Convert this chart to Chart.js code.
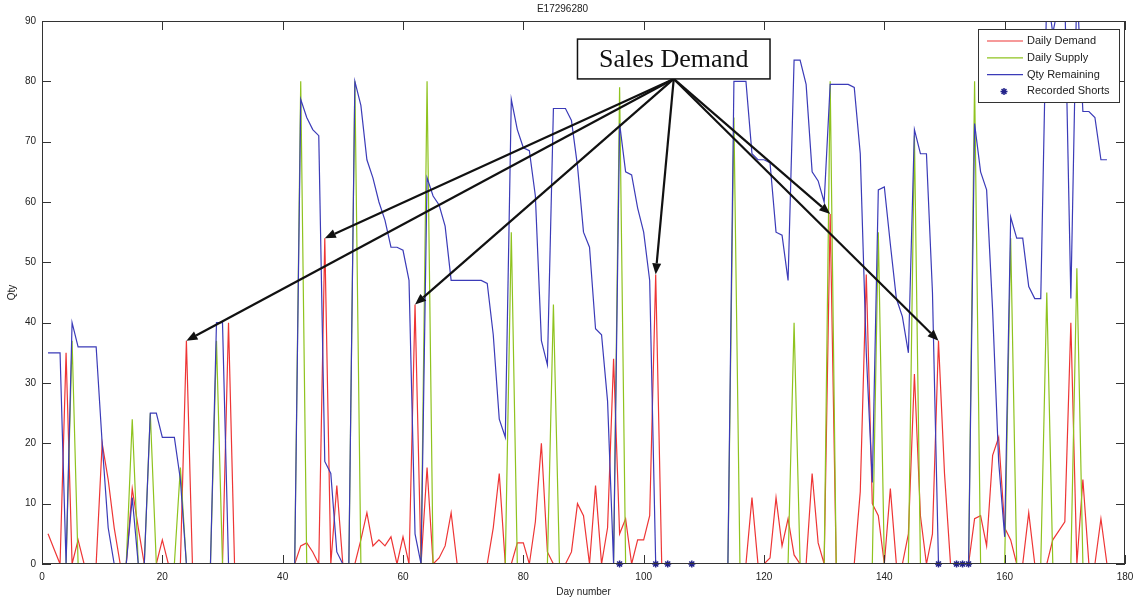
<!DOCTYPE html>
<html>
<head>
<meta charset="utf-8">
<title>E17296280</title>
<script src="https://cdn.jsdelivr.net/npm/chart.js@4.4.1/dist/chart.umd.min.js"></script>
<style>
  html, body { margin: 0; padding: 0; background: #fff; }
</style>
</head>
<body>
<canvas id="grafico" width="1135" height="600"></canvas>
<script>
// day numbers 1..177
const days = Array.from({ length: 177 }, (_, i) => i + 1);

const demand = [
  5, 2.5, 0, 35, 0, 4, 0, 0, 0, 20,
  14, 6, 0, 0, 12.5, 6, 0, 0, 0, 4,
  0, 0, 0, 37, 0, 0, 0, 0, 0, 0,
  40, 0, 0, 0, 0, 0, 0, 0, 0, 0,
  0, 0, 3, 3.5, 2, 0, 54, 0, 13, 0,
  0, 0, 4, 8.5, 3, 4, 3, 4.5, 0, 4.5,
  0, 43, 0, 16, 0, 1, 3, 8.5, 0, 0,
  0, 0, 0, 0, 6, 15, 0, 0, 3.5, 3.5,
  0, 7, 20, 2, 0, 0, 0, 2, 10, 8,
  0, 13, 0, 6, 34, 5, 7.5, 0, 4, 4,
  8, 48, 0, 0, 0, 0, 0, 0, 0, 0,
  0, 0, 0, 0, 0, 0, 0, 11, 0, 0,
  1, 11, 3, 7.5, 1.5, 0, 0, 15, 3.5, 0,
  58, 0, 0, 0, 0, 12, 48, 10, 8, 0,
  12.5, 0, 0, 5, 31.5, 8, 0, 5, 37, 15,
  0, 0, 0, 0, 7.5, 8, 3, 18, 21, 6,
  4, 0, 0, 8.5, 0, 0, 0, 4, 5.5, 7,
  40, 0, 14, 0, 0, 7.5, 0
];

const supply = [
  0, 0, 0, 0, 37, 0, 0, 0, 0, 0,
  0, 0, 0, 0, 24, 0, 0, 25, 0, 0,
  0, 0, 16, 0, 0, 0, 0, 0, 37, 0,
  0, 0, 0, 0, 0, 0, 0, 0, 0, 0,
  0, 0, 80, 0, 0, 0, 0, 0, 0, 0,
  0, 80, 0, 0, 0, 0, 0, 0, 0, 0,
  0, 0, 0, 80, 0, 0, 0, 0, 0, 0,
  0, 0, 0, 0, 0, 0, 0, 55, 0, 0,
  0, 0, 0, 0, 43, 0, 0, 0, 0, 0,
  0, 0, 0, 0, 0, 79, 0, 0, 0, 0,
  0, 0, 0, 0, 0, 0, 0, 0, 0, 0,
  0, 0, 0, 0, 74, 0, 0, 0, 0, 0,
  0, 0, 0, 0, 40, 0, 0, 0, 0, 0,
  80, 0, 0, 0, 0, 0, 0, 0, 55, 0,
  0, 0, 0, 0, 71, 0, 0, 0, 0, 0,
  0, 0, 0, 0, 80, 0, 0, 0, 0, 0,
  54, 0, 0, 0, 0, 0, 45, 0, 0, 0,
  0, 49, 0, 0, 0, 0, 0
];

const remaining = [
  35, 35, 35, 0, 40, 36, 36, 36, 36, 20,
  6, 0, 0, 0, 11, 0, 0, 25, 25, 21,
  21, 21, 14, 0, 0, 0, 0, 0, 40, 40,
  0, 0, 0, 0, 0, 0, 0, 0, 0, 0,
  0, 0, 77, 74, 72, 71, 17, 15, 2, 0,
  0, 80, 76, 67, 64, 60, 57, 52.5, 52.5, 52,
  47, 5, 0, 64, 61, 59.5, 56, 47, 47, 47,
  47, 47, 47, 46.5, 38, 24, 21, 77, 72, 69,
  68.5, 61, 37, 33, 75.5, 75.5, 75.5, 73.5, 66, 55,
  52.5, 39, 38, 27, 0, 73, 65, 64.5, 59, 55,
  47, 0, 0, 0, 0, 0, 0, 0, 0, 0,
  0, 0, 0, 0, 80, 80, 80, 68, 67, 67,
  66.5, 55, 54.5, 47, 83.5, 83.5, 79.5, 65, 63.5, 60,
  79.5, 79.5, 79.5, 79.5, 79, 68, 35, 13.5, 62, 62.5,
  53, 44, 41, 35, 72, 68, 68, 45, 0, 0,
  0, 0, 0, 0, 73, 65, 62, 42, 17, 4.5,
  57.5, 54, 54, 46, 44, 44, 95, 88, 93, 94,
  44, 96, 75, 75, 74, 67, 67
];

const shortDays = [96, 102, 104, 108, 149, 152, 153, 154];

const xTicks = [0, 20, 40, 60, 80, 100, 120, 140, 160, 180];
const yTicks = [0, 10, 20, 30, 40, 50, 60, 70, 80, 90];

// annotation: box text and the demand peaks the arrows point at
const noteText = 'Sales Demand';
const noteBox = { x0: 89, x1: 121, y0: 80.4, y1: 87 };
const arrowDays = [24, 47, 62, 102, 131, 149];

const fonte = { family: 'Liberation Sans, Arial, sans-serif', size: 10, weight: 'normal' };
const corTexto = '#222';

function pontos(vals) {
  return vals.map((v, i) => ({ x: days[i], y: v }));
}

function seta(ctx, x0, y0, x1, y1) {
  const ang = Math.atan2(y1 - y0, x1 - x0);
  const len = 11, w = 4.5;
  const bx = x1 - len * Math.cos(ang), by = y1 - len * Math.sin(ang);
  ctx.beginPath();
  ctx.moveTo(x0, y0);
  ctx.lineTo(bx, by);
  ctx.stroke();
  ctx.beginPath();
  ctx.moveTo(x1, y1);
  ctx.lineTo(bx + w * Math.sin(ang), by - w * Math.cos(ang));
  ctx.lineTo(bx - w * Math.sin(ang), by + w * Math.cos(ang));
  ctx.closePath();
  ctx.fill();
}

const decor = {
  id: 'decor',
  afterDatasetsDraw(chart) {
    const { ctx, chartArea: a, scales: { x, y } } = chart;
    ctx.save();

    // axes box and inward ticks, matlab style
    ctx.strokeStyle = '#333';
    ctx.lineWidth = 1;
    ctx.strokeRect(a.left + 0.5, a.top + 0.5, a.right - a.left - 1, a.bottom - a.top - 1);
    ctx.beginPath();
    xTicks.forEach(v => {
      const px = Math.round(x.getPixelForValue(v)) + 0.5;
      ctx.moveTo(px, a.bottom); ctx.lineTo(px, a.bottom - 9);
      ctx.moveTo(px, a.top); ctx.lineTo(px, a.top + 9);
    });
    yTicks.forEach(v => {
      const py = Math.round(y.getPixelForValue(v)) + 0.5;
      ctx.moveTo(a.left, py); ctx.lineTo(a.left + 9, py);
      ctx.moveTo(a.right, py); ctx.lineTo(a.right - 9, py);
    });
    ctx.stroke();

    // arrows from the note box to the demand peaks
    const ox = x.getPixelForValue((noteBox.x0 + noteBox.x1) / 2);
    const oy = y.getPixelForValue(noteBox.y0);
    ctx.strokeStyle = '#111';
    ctx.fillStyle = '#111';
    ctx.lineWidth = 2.2;
    arrowDays.forEach(d => {
      seta(ctx, ox, oy, x.getPixelForValue(d), y.getPixelForValue(demand[d - 1]));
    });

    // note box
    const bx0 = x.getPixelForValue(noteBox.x0), bx1 = x.getPixelForValue(noteBox.x1);
    const by0 = y.getPixelForValue(noteBox.y1), by1 = y.getPixelForValue(noteBox.y0);
    ctx.fillStyle = '#fff';
    ctx.fillRect(bx0, by0, bx1 - bx0, by1 - by0);
    ctx.lineWidth = 1.5;
    ctx.strokeStyle = '#111';
    ctx.strokeRect(bx0, by0, bx1 - bx0, by1 - by0);
    ctx.fillStyle = '#111';
    ctx.font = '26px "Liberation Serif", "Times New Roman", serif';
    ctx.textAlign = 'center';
    ctx.textBaseline = 'middle';
    ctx.fillText(noteText, (bx0 + bx1) / 2, (by0 + by1) / 2 + 1);

    // legend box in the upper right corner
    const lw = 141, lh = 73;
    const lx = a.right - lw - 6, ly = a.top + 8;
    ctx.fillStyle = '#fff';
    ctx.fillRect(lx, ly, lw, lh);
    ctx.lineWidth = 1;
    ctx.strokeStyle = '#333';
    ctx.strokeRect(lx + 0.5, ly + 0.5, lw, lh);
    ctx.font = '11px "Liberation Sans", Arial, sans-serif';
    ctx.textAlign = 'left';
    chart.data.datasets.forEach((ds, i) => {
      const ry = ly + 12 + i * 16.8;
      if (ds.showLine === false) {
        ctx.strokeStyle = ds.borderColor;
        ctx.lineWidth = 1.5;
        const cx = lx + 26, r = 3.5;
        ctx.beginPath();
        ctx.moveTo(cx - r, ry); ctx.lineTo(cx + r, ry);
        ctx.moveTo(cx, ry - r); ctx.lineTo(cx, ry + r);
        ctx.moveTo(cx - r * 0.7, ry - r * 0.7); ctx.lineTo(cx + r * 0.7, ry + r * 0.7);
        ctx.moveTo(cx - r * 0.7, ry + r * 0.7); ctx.lineTo(cx + r * 0.7, ry - r * 0.7);
        ctx.stroke();
      } else {
        ctx.strokeStyle = ds.borderColor;
        ctx.lineWidth = 1.2;
        ctx.beginPath();
        ctx.moveTo(lx + 9, ry); ctx.lineTo(lx + 45, ry);
        ctx.stroke();
      }
      ctx.fillStyle = '#222';
      ctx.fillText(ds.label, lx + 49, ry);
    });

    ctx.restore();
  }
};

const linha = { pointRadius: 0, borderWidth: 1.2, tension: 0, fill: false };

new Chart(document.getElementById('grafico'), {
  type: 'line',
  data: {
    datasets: [
      Object.assign({ label: 'Daily Demand', data: pontos(demand), borderColor: '#ee3535', order: 3 }, linha),
      Object.assign({ label: 'Daily Supply', data: pontos(supply), borderColor: '#8fc31f', order: 2 }, linha),
      Object.assign({ label: 'Qty Remaining', data: pontos(remaining), borderColor: '#3b3bb8', order: 1 }, linha),
      {
        label: 'Recorded Shorts',
        data: shortDays.map(d => ({ x: d, y: 0 })),
        showLine: false,
        pointStyle: 'star',
        pointRadius: 3.5,
        pointBorderWidth: 1.5,
        borderColor: '#23238a',
        backgroundColor: '#23238a',
        clip: false,
        order: 0
      }
    ]
  },
  options: {
    responsive: false,
    animation: false,
    events: [],
    layout: { padding: { left: 0, right: 10, top: 0, bottom: 0 } },
    plugins: {
      legend: { display: false },
      tooltip: { enabled: false },
      title: {
        display: true,
        text: 'E17296280',
        font: fonte,
        color: corTexto,
        padding: { top: 3, bottom: 6 }
      }
    },
    scales: {
      x: {
        type: 'linear',
        min: 0,
        max: 180,
        afterBuildTicks(s) { s.ticks = xTicks.map(v => ({ value: v })); },
        ticks: { font: fonte, color: corTexto, padding: 7, maxRotation: 0, autoSkip: false },
        grid: { display: false, drawTicks: false, tickLength: 0 },
        border: { display: false },
        title: { display: true, text: 'Day number', font: fonte, color: corTexto, padding: { top: 0, bottom: 2 } },
        afterFit(s) { s.height = 36; s.paddingLeft = 0; s.paddingRight = 0; }
      },
      y: {
        min: 0,
        max: 90,
        afterBuildTicks(s) { s.ticks = yTicks.map(v => ({ value: v })); },
        ticks: { font: fonte, color: corTexto, padding: 6 },
        grid: { display: false, drawTicks: false, tickLength: 0 },
        border: { display: false },
        title: { display: true, text: 'Qty', font: fonte, color: corTexto, padding: { top: 6, bottom: 0 } },
        afterFit(s) { s.width = 42; s.paddingTop = 0; s.paddingBottom = 0; }
      }
    }
  },
  plugins: [decor]
});
</script>
</body>
</html>
